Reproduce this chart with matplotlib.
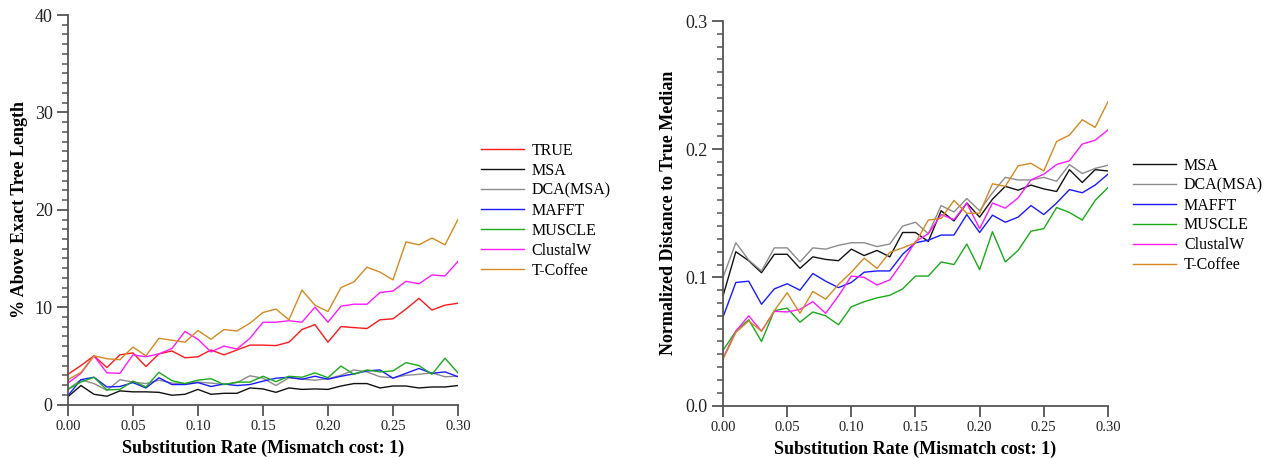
import numpy as np
import matplotlib
matplotlib.use("Agg")
import matplotlib.pyplot as plt
from matplotlib.ticker import MultipleLocator

plt.rcParams['font.family'] = ['Liberation Serif', 'DejaVu Serif']

# substitution rates 0.00 .. 0.30
rates = np.round(np.arange(0, 0.301, 0.01), 2)

# left panel: % above exact tree length
true_len = [3.1, 4.0, 5.0, 3.8, 5.1, 5.3, 3.9, 5.2, 5.5, 4.8, 4.9, 5.6, 5.1, 5.6, 6.1,
            6.1, 6.05, 6.4, 7.7, 8.2, 6.4, 8.0, 7.9, 7.8, 8.7, 8.8, 9.8, 10.9, 9.7, 10.2, 10.4]
msa_len = [0.8, 1.95, 1.05, 0.85, 1.4, 1.3, 1.3, 1.25, 0.95, 1.05, 1.55, 1.05, 1.15, 1.15, 1.7,
           1.6, 1.25, 1.7, 1.55, 1.6, 1.55, 1.9, 2.15, 2.15, 1.7, 1.9, 1.9, 1.7, 1.8, 1.8, 1.95]
dca_len = [1.55, 2.55, 2.15, 1.45, 2.55, 2.3, 2.15, 2.5, 2.2, 2.15, 2.3, 2.2, 2.05, 2.25, 2.95,
           2.7, 1.95, 2.75, 2.6, 2.5, 2.65, 3.0, 3.55, 3.35, 2.85, 2.75, 3.0, 3.1, 3.25, 2.85, 2.9]
mafft_len = [0.9, 2.55, 2.8, 1.8, 1.85, 2.25, 1.7, 2.75, 2.05, 2.05, 2.25, 1.85, 2.1, 1.95, 2.05,
             2.4, 2.7, 2.8, 2.6, 2.9, 2.6, 2.9, 3.15, 3.45, 3.55, 2.7, 3.2, 3.7, 3.2, 3.35, 2.85]
muscle_len = [1.55, 2.3, 2.8, 1.5, 1.55, 2.4, 1.8, 3.3, 2.45, 2.15, 2.5, 2.65, 2.05, 2.3, 2.3,
              2.9, 2.35, 2.9, 2.8, 3.25, 2.75, 3.95, 3.1, 3.55, 3.35, 3.45, 4.3, 4.0, 3.1, 4.75, 3.25]
clustal_len = [2.2, 3.2, 5.0, 3.25, 3.2, 5.1, 4.9, 5.2, 5.75, 7.5, 6.7, 5.4, 6.0, 5.7, 6.8,
               8.45, 8.45, 8.6, 8.45, 10.0, 8.45, 10.1, 10.3, 10.3, 11.5, 11.65, 12.65, 12.4, 13.3, 13.2, 14.7]
tcoffee_len = [2.55, 3.3, 5.0, 4.7, 4.6, 5.9, 5.0, 6.8, 6.6, 6.4, 7.6, 6.7, 7.7, 7.55, 8.35,
               9.45, 9.8, 8.7, 11.75, 10.2, 9.55, 12.0, 12.6, 14.1, 13.6, 12.8, 16.7, 16.4, 17.1, 16.4, 19.0]

# right panel: normalized distance to true median
msa_dist = [0.0855, 0.120, 0.113, 0.1036, 0.118, 0.118, 0.107, 0.116, 0.114, 0.113, 0.122, 0.117, 0.121, 0.116, 0.135,
            0.135, 0.128, 0.152, 0.144, 0.158, 0.147, 0.161, 0.171, 0.168, 0.172, 0.169, 0.167, 0.184, 0.174, 0.184, 0.183]
dca_dist = [0.100, 0.127, 0.1135, 0.105, 0.123, 0.123, 0.112, 0.123, 0.122, 0.125, 0.127, 0.127, 0.124, 0.126, 0.140,
            0.143, 0.134, 0.156, 0.151, 0.1615, 0.152, 0.166, 0.178, 0.176, 0.176, 0.178, 0.175, 0.188, 0.181, 0.185, 0.1875]
mafft_dist = [0.069, 0.096, 0.097, 0.079, 0.091, 0.095, 0.090, 0.103, 0.097, 0.092, 0.096, 0.104, 0.105, 0.105, 0.118,
              0.127, 0.129, 0.133, 0.133, 0.149, 0.135, 0.1485, 0.143, 0.147, 0.156, 0.149, 0.158, 0.1685, 0.166, 0.172, 0.1805]
muscle_dist = [0.043, 0.058, 0.067, 0.050, 0.074, 0.076, 0.065, 0.073, 0.070, 0.063, 0.077, 0.081, 0.084, 0.086, 0.091,
               0.101, 0.101, 0.112, 0.110, 0.126, 0.106, 0.1356, 0.112, 0.121, 0.136, 0.138, 0.1545, 0.1506, 0.1447, 0.160, 0.170]
clustal_dist = [0.037, 0.058, 0.070, 0.058, 0.0735, 0.073, 0.075, 0.081, 0.072, 0.0855, 0.101, 0.100, 0.094, 0.098, 0.112,
                0.128, 0.134, 0.149, 0.145, 0.158, 0.138, 0.158, 0.154, 0.162, 0.176, 0.1805, 0.188, 0.191, 0.204, 0.207, 0.215]
tcoffee_dist = [0.036, 0.057, 0.066, 0.058, 0.074, 0.088, 0.072, 0.089, 0.083, 0.0945, 0.104, 0.115, 0.107, 0.1195, 0.123,
                0.127, 0.1447, 0.146, 0.160, 0.150, 0.150, 0.173, 0.171, 0.187, 0.189, 0.183, 0.206, 0.211, 0.223, 0.217, 0.237]

colors = {'TRUE': '#ff1a1a', 'MSA': '#111111', 'DCA(MSA)': '#8c8c8c', 'MAFFT': '#1a1aff',
          'MUSCLE': '#1aaa1a', 'ClustalW': '#ff1aff', 'T-Coffee': '#d48a20'}

left_series = [('TRUE', true_len), ('MSA', msa_len), ('DCA(MSA)', dca_len), ('MAFFT', mafft_len),
               ('MUSCLE', muscle_len), ('ClustalW', clustal_len), ('T-Coffee', tcoffee_len)]
right_series = [('MSA', msa_dist), ('DCA(MSA)', dca_dist), ('MAFFT', mafft_dist),
                ('MUSCLE', muscle_dist), ('ClustalW', clustal_dist), ('T-Coffee', tcoffee_dist)]

fig = plt.figure(figsize=(12.7, 4.58), dpi=100)
ax1 = fig.add_axes([0.0535, 0.1168, 0.3071, 0.8504])
ax2 = fig.add_axes([0.5693, 0.1146, 0.3031, 0.8395])

spine_col = '#555555'


def style(ax, ymax, ymajor, yminor, yfmt):
    for s in ['top', 'right']:
        ax.spines[s].set_visible(False)
    for s in ['left', 'bottom']:
        ax.spines[s].set_color(spine_col)
        ax.spines[s].set_linewidth(1.3)
    ax.set_xlim(0, 0.30)
    ax.set_ylim(0, ymax)
    ax.yaxis.set_minor_locator(MultipleLocator(yminor))
    xt = np.round(np.arange(0, 0.301, 0.05), 2)
    ax.set_xticks(xt)
    ax.set_xticklabels(['%.2f' % v for v in xt])
    yt = np.arange(0, ymax + ymajor / 2, ymajor)
    ax.set_yticks(yt)
    ax.set_yticklabels([yfmt % v for v in yt])
    ax.tick_params(axis='x', which='major', direction='out', length=8, width=1.3,
                   color=spine_col, labelsize=10.5, pad=3, labelcolor='#222222')
    ax.tick_params(axis='y', which='major', direction='out', length=8, width=1.3,
                   color=spine_col, labelsize=13, pad=3, labelcolor='#222222')
    ax.tick_params(axis='y', which='minor', direction='out', length=4, width=1.1, color=spine_col)
    ax.set_xlabel('Substitution Rate (Mismatch cost: 1)', fontsize=13, fontweight='bold', labelpad=5)


for name, vals in left_series:
    ax1.plot(rates, vals, color=colors[name], lw=1.0, label=name)
style(ax1, 40, 10, 1, '%d')
ax1.set_ylabel('% Above Exact Tree Length', fontsize=13, fontweight='bold', labelpad=5)
ax1.legend(loc='upper left', bbox_to_anchor=(1.058, 0.672), frameon=False, fontsize=11.5,
           handlelength=2.7, handletextpad=0.5, labelspacing=0.25, borderpad=0, borderaxespad=0)

for name, vals in right_series:
    ax2.plot(rates, vals, color=colors[name], lw=1.0, label=name)
style(ax2, 0.3, 0.1, 0.01, '%.1f')
ax2.set_ylabel('Normalized Distance to True Median', fontsize=13, fontweight='bold', labelpad=6)
ax2.legend(loc='upper left', bbox_to_anchor=(1.065, 0.645), frameon=False, fontsize=11.5,
           handlelength=2.7, handletextpad=0.5, labelspacing=0.25, borderpad=0, borderaxespad=0)

fig.savefig('out.png', dpi=100)
